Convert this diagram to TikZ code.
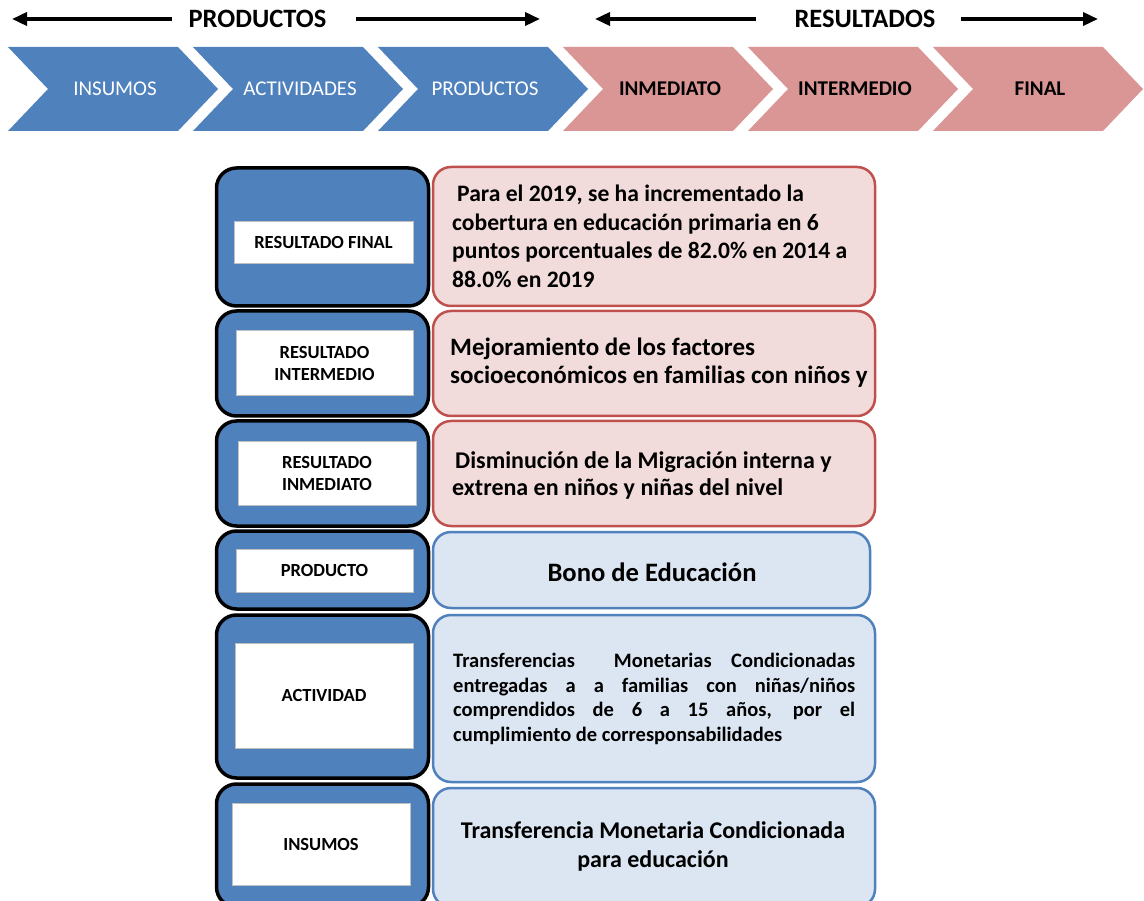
\documentclass[tikz,border=0pt]{standalone}
\usepackage{fontspec}
\setmainfont{Carlito}
\usetikzlibrary{arrows.meta}
\definecolor{cblue}{HTML}{4F81BD}
\definecolor{cpink}{HTML}{D99694}
\definecolor{pfill}{HTML}{F2DCDB}
\definecolor{pline}{HTML}{C0504D}
\definecolor{bfill}{HTML}{DCE6F2}
\definecolor{bline}{HTML}{4F81BD}
\definecolor{igray}{HTML}{BFBFBF}
\begin{document}
\begin{tikzpicture}[x=1pt,y=-1pt,
 outerbox/.style={draw=black,line width=3.5pt,fill=cblue,rounded corners=20pt,minimum width=212pt,inner sep=0pt},
 labelbox/.style={draw=igray,line width=1pt,fill=white,inner sep=0pt,align=center,font=\fontsize{18.5}{22}\selectfont\bfseries},
 pinkbox/.style={draw=pline,line width=2.5pt,fill=pfill,rounded corners=18pt,inner sep=0pt},
 bluebox/.style={draw=bline,line width=2.5pt,fill=bfill,rounded corners=18pt,inner sep=0pt},
 chevw/.style={text=white,font=\fontsize{21}{24}\selectfont,inner sep=0pt},
 chevb/.style={text=black,font=\fontsize{21}{24}\selectfont\bfseries,inner sep=0pt},
 head/.style={font=\fontsize{26.5}{30}\selectfont\bfseries,inner sep=0pt},
 harrow/.style={line width=3.5pt,-{Triangle[length=15pt,width=13pt]}},
 btext/.style={font=\fontsize{23.6}{28.5}\selectfont\bfseries,inner sep=0pt,align=left,anchor=west},
]
\clip (0,0) rectangle (1144,901);
\fill[white] (0,0) rectangle (1144,901);

% header
\node[head] (ph) at (257.5,19) {PRODUCTOS};
\coordinate (pl) at (12,19);
\coordinate (pr) at (540,19);
\draw[harrow] ([xshift=-16pt]ph.west) -- (pl);
\draw[harrow] ([xshift=29pt]ph.east) -- (pr);
\node[head] (rh) at (865,19) {RESULTADOS};
\coordinate (rl) at (595,19);
\coordinate (rr) at (1098,19);
\draw[harrow] ([xshift=-38pt]rh.west) -- (rl);
\draw[harrow] ([xshift=25pt]rh.east) -- (rr);

% chevrons
\foreach \L/\c/\t/\s [count=\i] in {8/cblue/INSUMOS/chevw, 193/cblue/ACTIVIDADES/chevw, 378/cblue/PRODUCTOS/chevw, 563/cpink/INMEDIATO/chevb, 748/cpink/INTERMEDIO/chevb, 933/cpink/FINAL/chevb}{
  \fill[\c] (\L,47) -- ++(170,0) -- ++(40,42) -- ++(-40,42) -- ++(-170,0) -- ++(40,-42) -- cycle;
  \node[\s] (ch\i) at (\L+107,89) {\t};
}

% left column
\node[outerbox,minimum height=138pt] (o1) at (322.5,237) {};
\node[labelbox,minimum width=179pt,minimum height=42pt] (l1) at (323.5,243) {RESULTADO FINAL};
\node[outerbox,minimum height=105pt] (o2) at (322.5,363.5) {};
\node[labelbox,minimum width=177pt,minimum height=65pt] (l2) at (324.5,363.5) {RESULTADO\\INTERMEDIO};
\node[outerbox,minimum height=105pt] (o3) at (322.5,473.5) {};
\node[labelbox,minimum width=178pt,minimum height=64pt] (l3) at (327,473) {RESULTADO\\INMEDIATO};
\node[outerbox,minimum height=78pt] (o4) at (322.5,570) {};
\node[labelbox,minimum width=177pt,minimum height=43pt] (l4) at (324.5,570.5) {PRODUCTO};
\node[outerbox,minimum height=163pt] (o5) at (322.5,696.5) {};
\node[labelbox,minimum width=178pt,minimum height=105pt] (l5) at (324,695.5) {ACTIVIDAD};
\node[outerbox,minimum height=123pt] (o6) at (322.5,845.5) {};
\node[labelbox,minimum width=178pt,minimum height=82pt] (l6) at (321,844) {INSUMOS};

% right column
\node[pinkbox,minimum width=442pt,minimum height=139pt] (r1) at (654,236.5) {};
\node[btext] (t1) at (452,236.5) {\hspace{5pt}Para el 2019, se ha incrementado la\\cobertura en educación primaria en 6\\puntos porcentuales de 82.0\% en 2014 a\\88.0\% en 2019};
\node[pinkbox,minimum width=442pt,minimum height=105pt] (r2) at (654,363.5) {};
\node[btext,font=\fontsize{25}{28}\selectfont\bfseries] (t2) at (450,363) {Mejoramiento de los factores\\socioeconómicos en familias con niños y};
\node[pinkbox,minimum width=442pt,minimum height=105pt] (r3) at (654,473.5) {};
\node[btext,font=\fontsize{24}{27}\selectfont\bfseries] (t3) at (452,475.5) {\hspace{3pt}Disminución de la Migración interna y\\extrena en niños y niñas del nivel};
\node[bluebox,minimum width=437pt,minimum height=76pt] (r4) at (651.5,570) {};
\node[font=\fontsize{26.6}{30}\selectfont\bfseries,inner sep=0pt] (t4) at (652,572) {Bono de Educación};
\node[bluebox,minimum width=442pt,minimum height=167pt] (r5) at (654,698.5) {};
\node[btext,font=\fontsize{20.5}{24.7}\selectfont\bfseries] (t5) at (453,699) {\makebox[402pt][s]{Transferencias\ \ Monetarias Condicionadas}\\\makebox[402pt][s]{entregadas a a familias con niñas/niños}\\\makebox[402pt][s]{comprendidos de 6 a 15 años, por el}\\cumplimiento de corresponsabilidades};
\node[bluebox,minimum width=442pt,minimum height=119pt] (r6) at (654,847.5) {};
\node[font=\fontsize{24}{29}\selectfont\bfseries,inner sep=0pt,align=center] (t6) at (653,846.5) {Transferencia Monetaria Condicionada\\para educación};
\end{tikzpicture}
\end{document}
